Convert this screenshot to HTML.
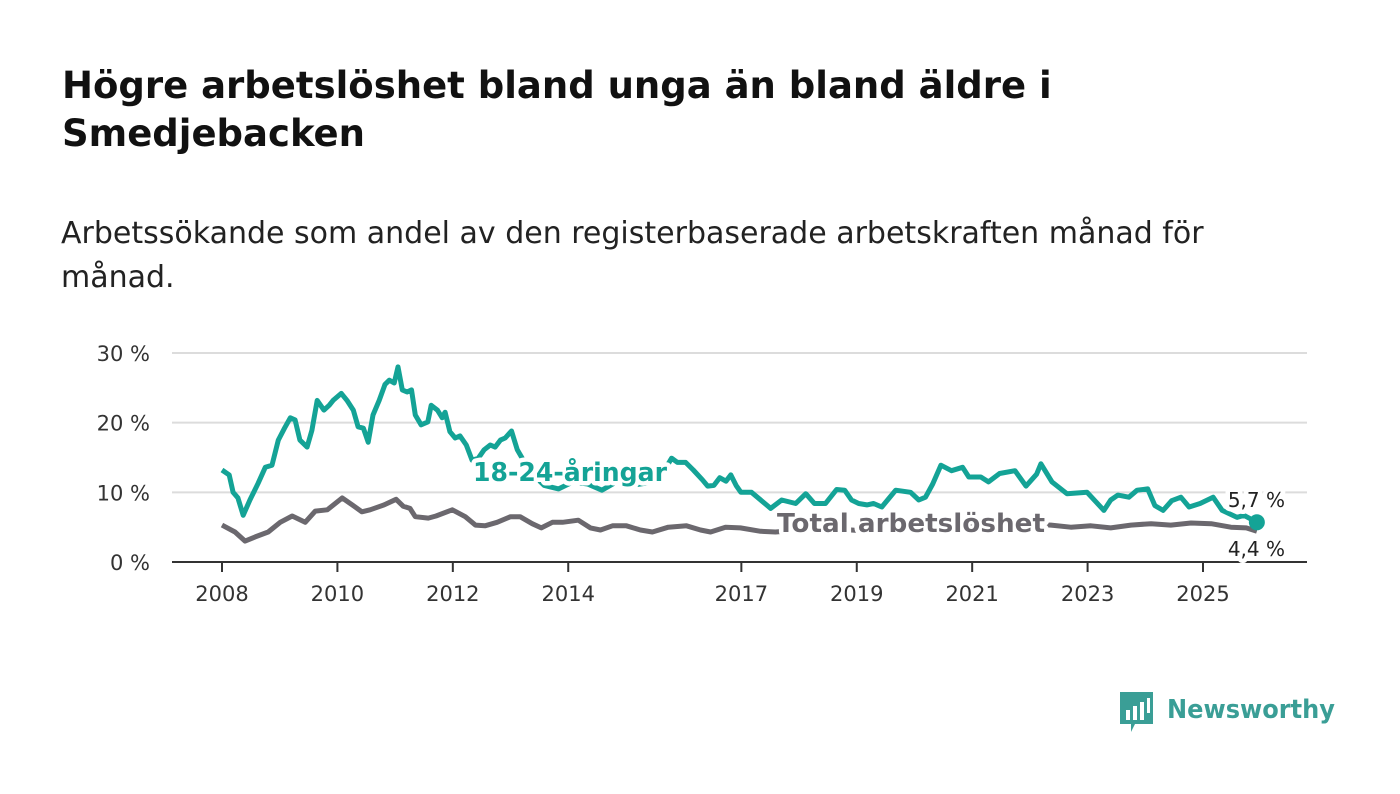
<!DOCTYPE html>
<html><head><meta charset="utf-8"><style>
body{margin:0;background:#fff;width:1400px;height:794px;overflow:hidden;font-family:"DejaVu Sans","Liberation Sans",sans-serif}
h1{position:absolute;left:62px;top:62px;margin:0;font-size:37px;line-height:48px;font-weight:bold;color:#111;width:1100px}
p{position:absolute;left:61px;top:212px;margin:0;font-size:30px;line-height:44px;color:#222;width:1240px}
svg{position:absolute;left:0;top:0;font-family:"DejaVu Sans","Liberation Sans",sans-serif}
</style></head><body>
<h1>Högre arbetslöshet bland unga än bland äldre i Smedjebacken</h1>
<p>Arbetssökande som andel av den registerbaserade arbetskraften månad för månad.</p>
<svg width="1400" height="794">
<g id="grid"></g><g id="lines"></g><g id="labels"></g>
<g>
<path d="M1120 692h33v32h-18l-4 8v-8h-11z" fill="#3a9e96"/>
<rect x="1126" y="710" width="4" height="10" fill="#fff"/><rect x="1133" y="706" width="4" height="14" fill="#fff"/><rect x="1140" y="702" width="4" height="18" fill="#fff"/><rect x="1147" y="698" width="3" height="15" fill="#fff"/>
<text x="1167" y="718" font-size="26" font-weight="bold" fill="#3a9e96" textLength="168" lengthAdjust="spacingAndGlyphs">Newsworthy</text>
</g>
</svg>
<script>
const yTicks=[0,10,20,30];
const xTickYears=[2008,2010,2012,2014,2017,2019,2021,2023,2025];
const youthMonths=[0,1.5,2.3,3.3,4.4,5.8,7.5,9,10.4,11.7,13,14.2,15.2,16.2,17.7,18.7,19.8,21.2,22.3,23.1,24.8,26,27.3,28.3,29.4,30.4,31.4,32.7,33.9,34.8,35.8,36.6,37.5,38.5,39.4,40.2,41.4,42.8,43.5,44.8,45.8,46.4,47.4,48.5,49.5,50.8,52,53.3,54.5,55.8,56.8,57.9,58.9,60.2,61.4,64,67,70,73,76,79,82,85,88,91,93.5,94.7,96.4,98,99.9,101,102.3,103.5,104.8,105.8,106.9,107.9,110.1,114.1,116.4,119.3,121.4,123.2,125.5,127.8,129.5,130.9,132.4,134.1,135.5,137.2,140.1,143.2,144.9,146.3,147.8,149.5,151.7,154,155.3,157.8,159.4,161.7,164.9,167.2,169.4,170.3,172.6,175.7,179.9,183.4,184.8,186.3,188.6,190.3,192.5,194,195.7,197.5,199.4,201.1,203.4,206.1,208,211.1,212.5,215.2];
const youthValues=[13.2,12.5,10,9.2,6.7,8.9,11.3,13.6,13.9,17.5,19.2,20.7,20.4,17.5,16.5,18.9,23.2,21.8,22.5,23.2,24.2,23.2,21.8,19.4,19.2,17.2,21.1,23.2,25.5,26.1,25.7,28,24.7,24.4,24.7,21.1,19.7,20.1,22.5,21.8,20.7,21.5,18.7,17.8,18.1,16.8,14.6,14.9,16.1,16.8,16.5,17.5,17.8,18.8,16.1,13,11,10.5,11.5,11.2,10.3,11.5,11,11.3,12,14.9,14.3,14.3,13.2,11.8,10.9,11,12.1,11.6,12.5,11,10,10,7.7,8.9,8.4,9.8,8.4,8.4,10.4,10.3,8.9,8.4,8.2,8.4,7.9,10.3,10,8.9,9.3,11.2,13.9,13.1,13.6,12.2,12.2,11.5,12.7,13.1,10.9,12.6,14.1,11.5,9.8,10,7.4,8.9,9.6,9.3,10.3,10.5,8.1,7.4,8.8,9.3,7.9,8.4,9.3,7.4,6.4,6.7,5.7];
const totalMonths=[0,2.7,4.8,6.9,9.6,12.1,14.6,17.3,19.4,21.9,25,27.1,29.1,30.8,33.7,36.2,37.7,39.1,40.2,42.9,44.5,47.9,50.6,52.7,54.7,57.2,60,62,64.5,66.4,68.7,70.8,74.1,76.6,78.7,81.2,84.1,87,89.5,92.8,96.6,99.5,101.6,104.7,107.8,112,115.1,120.3,126.6,132.8,139,145.3,151.5,157.8,164,168.2,172.4,176.5,180.7,184.8,189,193.2,197.3,201.5,205.7,209.8,213,215.2];
const totalValues=[5.3,4.3,3.0,3.6,4.3,5.7,6.6,5.7,7.3,7.5,9.2,8.2,7.2,7.5,8.2,9.0,8.0,7.7,6.5,6.3,6.6,7.5,6.5,5.3,5.2,5.7,6.5,6.5,5.5,4.9,5.7,5.7,6.0,4.9,4.6,5.2,5.2,4.6,4.3,5.0,5.2,4.6,4.3,5.0,4.9,4.4,4.3,4.6,4.8,4.5,4.6,5.0,5.3,5.0,5.2,5.4,5.3,5.0,5.2,4.9,5.3,5.5,5.3,5.6,5.5,5.0,4.9,4.4];
const NS='http://www.w3.org/2000/svg';
const X0=172,X1=1307,Y0=562,Y30=353;
const xm=m=>222+m*(1203-222)/204;
const xy=yr=>xm((yr-2008)*12);
const yv=v=>Y0-(v/30)*(Y0-Y30);
function mk(tag,attrs,parent,text){const e=document.createElementNS(NS,tag);for(const k in attrs)e.setAttribute(k,attrs[k]);if(text!==undefined)e.textContent=text;parent.appendChild(e);return e;}
const grid=document.getElementById('grid');
yTicks.forEach(t=>{
 if(t>0){const l=mk('line',{x1:X0,x2:X1,y1:yv(t),y2:yv(t),stroke:'#dcdcdc','stroke-width':2},grid);
 
 }
 const tx=mk('text',{x:150,y:yv(t)+8,'text-anchor':'end','font-size':21,fill:'#333'},grid,t+' %');
 
 
});
const ax=mk('line',{x1:X0,x2:X1,y1:Y0,y2:Y0,stroke:'#333','stroke-width':2},grid);


xTickYears.forEach(yr=>{
 const x=xy(yr);
 const tk=mk('line',{x1:x,x2:x,y1:Y0,y2:Y0+10,stroke:'#333','stroke-width':2},grid);
 
 
 const tx=mk('text',{x:x,y:601,'text-anchor':'middle','font-size':21,fill:'#333'},grid,String(yr));
 
 
});
const lines=document.getElementById('lines');
function path(ms,vs){return ms.map((m,i)=>(i?'L':'M')+xm(m).toFixed(1)+' '+yv(vs[i]).toFixed(1)).join('');}
const tl=mk('path',{d:path(totalMonths,totalValues),fill:'none',stroke:'#6b686e','stroke-width':5,'stroke-linejoin':'round'},lines);


const yl=mk('path',{d:path(youthMonths,youthValues),fill:'none',stroke:'#14a396','stroke-width':5,'stroke-linejoin':'round'},lines);


const lm=youthMonths[youthMonths.length-1];
const dot=mk('circle',{cx:xm(lm),cy:yv(youthValues[youthValues.length-1]),r:8,fill:'#14a396'},lines);


const labels=document.getElementById('labels');
function lab(x,y,t,size,col,w,name,anchor,len){const a={x:x,y:y,'font-size':size,'font-weight':w,fill:col,stroke:'#fff','stroke-width':9,'paint-order':'stroke','stroke-linejoin':'round','text-anchor':anchor||'start'};if(len){a.textLength=len;a.lengthAdjust='spacingAndGlyphs';}
 const e=mk('text',a,labels,t);
 
 }
lab(473,481,'18-24-åringar',26,'#14a396','bold','youth-series-label','start',194);
lab(777,532,'Total arbetslöshet',26,'#6b686e','bold','total-series-label','start',268);
lab(1285,507,(youthValues[youthValues.length-1]+'').replace('.',',')+' %',20,'#222','normal','youth-end-value','end');
lab(1285,556,(totalValues[totalValues.length-1]+'').replace('.',',')+' %',20,'#222','normal','total-end-value','end');
</script>
</body></html>
